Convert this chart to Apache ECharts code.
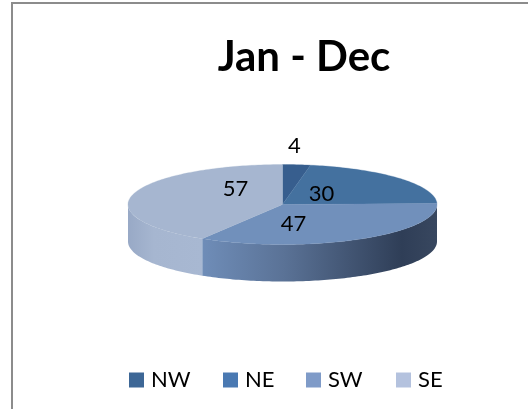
<!DOCTYPE html>
<html><head><meta charset="utf-8">
<style>html,body{margin:0;padding:0;background:#fff}#c{width:528px;height:409px}</style>
<script src="https://cdn.jsdelivr.net/npm/echarts@6/dist/echarts.min.js"></script>
</head><body><div id="c"></div>
<script>
const categories = ['NW', 'NE', 'SW', 'SE'];
const values = [4, 30, 47, 57];
const chartTitle = 'Jan - Dec';

const topColors = ['#375e8e', '#44719f', '#7190bb', '#a6b6d0'];
const legendColors = ['#3d6796', '#4a79b2', '#7f9bc8', '#b4c2de'];
const sideStops = [
  [[0, '#36557f'], [1, '#36557f']],
  [[0, '#3a4a63'], [1, '#3a4a63']],
  [[0, '#6f8db8'], [0.35, '#5a7296'], [0.85, '#2f3e57'], [1, '#38475f']],
  [[0, '#98a9c6'], [0.35, '#a6b6d0'], [1, '#a8b8d2']]
];
// label offsets from the pie centre, in px
const labelOffsets = [[12, -59], [39, -11], [11, 19], [-47, -16]];
// left edge of each legend entry, in px
const legendLefts = [124, 218, 301, 391];

const CX = 282.5, CY = 204.5, RX = 154.5, RY = 40, DEPTH = 37;
const total = values.reduce((a, b) => a + b, 0);

function pt(a, dy) {
  return [CX + RX * Math.sin(a), CY - RY * Math.cos(a) + (dy || 0)];
}
function arc(a0, a1, dy) {
  const n = Math.max(2, Math.ceil(Math.abs(a1 - a0) / 0.02));
  const out = [];
  for (let i = 0; i <= n; i++) out.push(pt(a0 + (a1 - a0) * i / n, dy));
  return out;
}
function makeRender(idx) {
  return function () {
    const before = values.slice(0, idx).reduce((a, b) => a + b, 0);
    const a0 = before / total * Math.PI * 2;
    const a1 = (before + values[idx]) / total * Math.PI * 2;
    const children = [];
    const s0 = Math.max(a0, Math.PI / 2), s1 = Math.min(a1, Math.PI * 1.5);
    if (s1 > s0) {
      const top = arc(s0, s1, 0), bottom = arc(s1, s0, DEPTH);
      children.push({
        type: 'polygon',
        shape: { points: top.concat(bottom) },
        style: {
          fill: new echarts.graphic.LinearGradient(
            0, 0, 1, 0,
            sideStops[idx].map(s => ({ offset: s[0], color: s[1] }))
          )
        }
      });
    }
    children.push({
      type: 'polygon',
      shape: { points: [[CX, CY]].concat(arc(a0, a1, 0)) },
      style: { fill: topColors[idx], stroke: topColors[idx], lineWidth: 0.3 }
    });
    children.push({
      type: 'text',
      z2: 50,
      style: {
        text: String(values[idx]),
        x: CX + labelOffsets[idx][0],
        y: CY + labelOffsets[idx][1],
        align: 'center',
        verticalAlign: 'middle',
        fontFamily: 'Lato',
        fontSize: 22,
        fill: '#000'
      }
    });
    return { type: 'group', children };
  };
}

const chart = echarts.init(document.getElementById('c'), null, { renderer: 'canvas' });
chart.setOption({
  animation: false,
  backgroundColor: '#fff',
  title: {
    text: chartTitle, left: 304, top: 36, textAlign: 'center',
    padding: 0,
    textStyle: { fontFamily: 'Lato', fontSize: 42, fontWeight: 'bold', color: '#000' }
  },
  legend: categories.map((name, i) => ({
    data: [name], left: legendLefts[i], top: 364, icon: 'rect',
    itemWidth: 15, itemHeight: 15,
    textStyle: { fontFamily: 'Lato', fontSize: 22, color: '#000', padding: [0, 0, 0, 2] }
  })),
  graphic: [{
    type: 'rect', silent: true, z: -1,
    shape: { x: 12, y: 3, width: 600, height: 500 },
    style: { fill: 'none', stroke: '#8c8c8c', lineWidth: 2 }
  }],
  series: categories.map((name, i) => ({
    type: 'custom', name, coordinateSystem: 'none',
    data: [values[i]],
    itemStyle: { color: legendColors[i] },
    renderItem: makeRender(i), silent: true
  }))
});
</script></body></html>
